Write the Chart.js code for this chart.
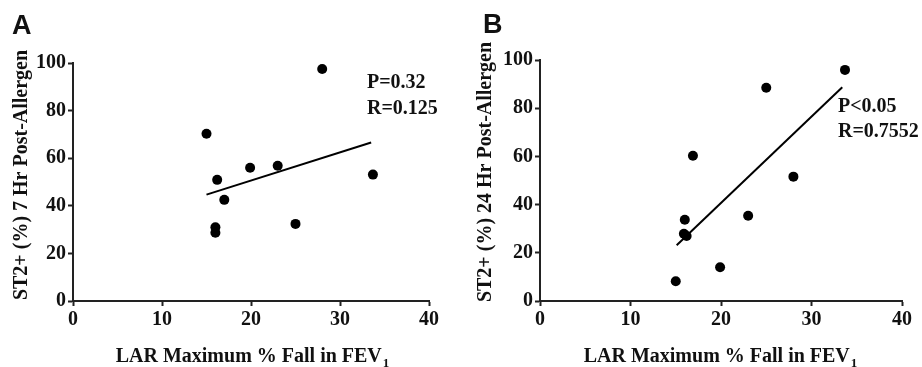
<!DOCTYPE html>
<html>
<head>
<meta charset="utf-8">
<script src="https://cdn.jsdelivr.net/npm/chart.js@4.4.1/dist/chart.umd.min.js"></script>
<style>
  body { margin: 0; background: #fff; }
  #wrap { display: flex; width: 922px; height: 367px; }
  .panel { width: 461px; height: 367px; }
</style>
</head>
<body>
<div id="wrap">
  <div class="panel"><canvas id="chartA" width="461" height="367"></canvas></div>
  <div class="panel"><canvas id="chartB" width="461" height="367"></canvas></div>
</div>
<script>
// panel A: LAR max % fall in FEV1 vs ST2+ (%) at 7 h
const fevA = [15, 28, 16.2, 19.9, 23, 17, 16, 16, 25, 33.7];
const st2A = [70.3, 97.5, 50.9, 56, 56.8, 42.5, 31, 28.7, 32.4, 53.1];
const fitAx = [15, 33.5];
const fitAy = [44.7, 66.6];

// panel B: same x, ST2+ (%) at 24 h
const fevB = [33.7, 25, 16.9, 28, 23, 16, 15.9, 16.2, 19.9, 15];
const st2B = [95.9, 88.5, 60.3, 51.6, 35.4, 33.7, 27.9, 27, 14, 8.2];
const fitBx = [15.1, 33.4];
const fitBy = [23.1, 88.7];

const xTicks = [0, 10, 20, 30, 40];
const yTicks = [0, 20, 40, 60, 80, 100];

const serif = "'Liberation Serif', 'Times New Roman', serif";

function pairs(xs, ys) {
  return xs.map(function (x, i) { return { x: x, y: ys[i] }; });
}

// letters, stats text and axis titles (x title needs a subscript)
const decorPlugin = {
  id: "decor",
  afterDraw: function (chart, args, opts) {
    const ctx = chart.ctx;
    ctx.save();
    ctx.fillStyle = "#111";
    ctx.textAlign = "left";
    ctx.textBaseline = "alphabetic";

    ctx.font = "bold 27px 'Liberation Sans', Arial, sans-serif";
    ctx.fillText(opts.letter, opts.letterX, opts.letterY);

    ctx.font = "bold 20px " + serif;
    opts.notes.forEach(function (n) { ctx.fillText(n.text, n.x, n.y); });

    const main = "LAR Maximum % Fall in FEV";
    const w1 = ctx.measureText(main).width;
    ctx.font = "bold 13px " + serif;
    const w2 = ctx.measureText("1").width;
    const x0 = opts.xTitleX - (w1 + w2) / 2;
    ctx.font = "bold 20px " + serif;
    ctx.fillText(main, x0, opts.xTitleY);
    ctx.font = "bold 13px " + serif;
    ctx.fillText("1", x0 + w1 + 1, opts.xTitleY + 5);

    ctx.font = "bold 20px " + serif;
    ctx.translate(opts.yTitleX, opts.yTitleY);
    ctx.rotate(-Math.PI / 2);
    ctx.textAlign = "center";
    ctx.textBaseline = "middle";
    ctx.fillText(opts.yTitle, 0, 0);
    ctx.restore();
  }
};

function axisStyle() {
  return {
    type: "linear",
    grid: { display: true, drawOnChartArea: false, drawTicks: true, tickLength: 5, tickWidth: 2, tickColor: "#222" },
    border: { display: true, width: 2, color: "#222" },
    ticks: { color: "#111", padding: 2, font: { family: serif, size: 20, weight: "bold" } }
  };
}

function makeChart(id, xs, ys, fx, fy, box, decor) {
  const xAxis = axisStyle();
  xAxis.min = 0;
  xAxis.max = 40;
  xAxis.afterBuildTicks = function (s) { s.ticks = xTicks.map(function (v) { return { value: v }; }); };
  xAxis.afterFit = function (s) { s.height = box.bottom; };

  const yAxis = axisStyle();
  yAxis.min = 0;
  yAxis.max = 100;
  yAxis.afterBuildTicks = function (s) { s.ticks = yTicks.map(function (v) { return { value: v }; }); };
  yAxis.afterFit = function (s) { s.width = box.left; };

  return new Chart(document.getElementById(id), {
    type: "scatter",
    data: {
      datasets: [
        { data: pairs(xs, ys), pointRadius: 5, backgroundColor: "#000", borderWidth: 0 },
        { data: pairs(fx, fy), showLine: true, pointRadius: 0, borderColor: "#000", borderWidth: 2, fill: false }
      ]
    },
    options: {
      responsive: false,
      animation: false,
      layout: { padding: { top: box.top, right: box.right, left: 0, bottom: 0 } },
      plugins: { legend: { display: false }, tooltip: { enabled: false }, decor: decor },
      scales: { x: xAxis, y: yAxis }
    },
    plugins: [decorPlugin]
  });
}

makeChart("chartA", fevA, st2A, fitAx, fitAy,
  { left: 73, top: 63, right: 32, bottom: 66 },
  {
    letter: "A", letterX: 12, letterY: 34,
    notes: [{ text: "P=0.32", x: 367, y: 88 }, { text: "R=0.125", x: 367, y: 114 }],
    xTitleX: 252, xTitleY: 362,
    yTitle: "ST2+ (%) 7 Hr Post-Allergen", yTitleX: 22, yTitleY: 175
  });

makeChart("chartB", fevB, st2B, fitBx, fitBy,
  { left: 79, top: 60, right: 20, bottom: 66 },
  {
    letter: "B", letterX: 22, letterY: 33,
    notes: [{ text: "P<0.05", x: 377, y: 112 }, { text: "R=0.7552", x: 377, y: 137 }],
    xTitleX: 259, xTitleY: 362,
    yTitle: "ST2+ (%) 24 Hr Post-Allergen", yTitleX: 25, yTitleY: 172
  });
</script>
</body>
</html>
